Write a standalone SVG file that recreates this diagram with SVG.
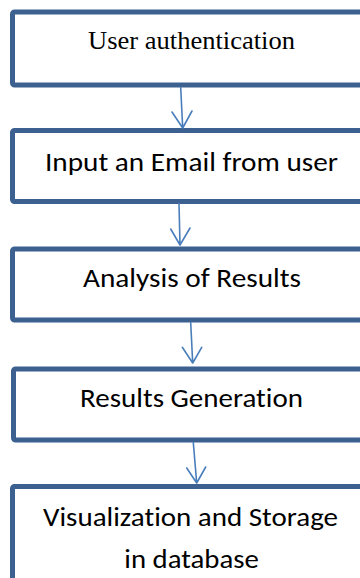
<svg xmlns="http://www.w3.org/2000/svg" width="360" height="578" viewBox="0 0 360 578">
  <style>
    .box { fill: #ffffff; stroke: #3c6191; stroke-width: 5; }
    .sans { font-family: "Carlito", "Lato", "Liberation Sans", sans-serif; font-size: 26px; fill: #000000; font-variant-ligatures: none; }
    .serif { font-family: "Liberation Serif", "Times New Roman", serif; font-size: 26px; fill: #000000; }
    .link { fill: none; stroke: #4a7ebb; stroke-width: 1.6; stroke-linecap: round; stroke-linejoin: round; }
  </style>
  <rect width="360" height="578" fill="#ffffff"/>

  <g id="node-auth">
    <rect class="box" x="12.5" y="12" width="400" height="73" rx="2"/>
    <text class="serif" x="88" y="48.5" textLength="207" lengthAdjust="spacingAndGlyphs">User authentication</text>
  </g>

  <g id="node-input">
    <rect class="box" x="12.5" y="130.5" width="400" height="71" rx="2"/>
    <text class="sans" x="45" y="170.5" textLength="293" lengthAdjust="spacingAndGlyphs">Input an Email from user</text>
  </g>

  <g id="node-analysis">
    <rect class="box" x="12.5" y="249" width="400" height="71" rx="2"/>
    <text class="sans" x="83" y="287.3" textLength="218" lengthAdjust="spacingAndGlyphs">Analysis of Results</text>
  </g>

  <g id="node-generation">
    <rect class="box" x="13.5" y="369" width="400" height="71" rx="2"/>
    <text class="sans" x="80" y="406.7" textLength="223" lengthAdjust="spacingAndGlyphs">Results Generation</text>
  </g>

  <g id="node-storage">
    <rect class="box" x="12.5" y="486.5" width="400" height="150" rx="2"/>
    <text class="sans" x="43" y="525.7" textLength="295" lengthAdjust="spacingAndGlyphs">Visualization and Storage</text>
    <text class="sans" x="124.3" y="567.5" textLength="134.5" lengthAdjust="spacingAndGlyphs">in database</text>
  </g>

  <g id="connectors">
    <path class="link" d="M180.7 87.5 L182.7 128 M172 112 L182.7 128 L192 111"/>
    <path class="link" d="M179 203.5 L180 245 M170.7 229 L180 245 L190 228"/>
    <path class="link" d="M190.7 322.5 L192.7 363 M182.3 347.3 L192.7 363 L201.7 347.3"/>
    <path class="link" d="M193.3 442.5 L196.7 483 M186.7 468 L196.7 483 L205.7 467"/>
  </g>
</svg>
